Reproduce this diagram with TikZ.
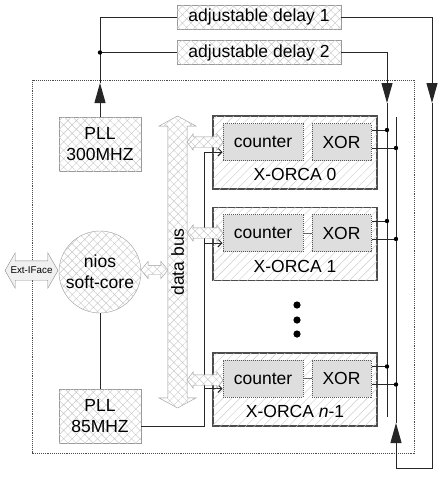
\documentclass[tikz,border=0pt]{standalone}
\usepackage{fontspec}
\setmainfont{Liberation Sans}
\usetikzlibrary{shapes.arrows,patterns.meta,arrows.meta,calc}

\tikzset{
  xhatch/.style={fill=white, postaction={pattern={Hatch[angle=45,distance=6pt,line width=0.4pt]}, pattern color=black!22}},
  plbox/.style={draw=black!40, xhatch, minimum width=82pt, minimum height=54pt, inner sep=0pt, align=center},
  delaybox/.style={draw=black!40, xhatch, minimum width=164pt, minimum height=24pt, inner sep=0pt},
  orcabox/.style={draw=black!70, line width=1.3pt, fill=white, postaction={pattern={Lines[angle=45,distance=6pt,line width=0.4pt]}, pattern color=black!20}, minimum width=164pt, minimum height=73pt},
  unitbox/.style={draw=black!65, densely dotted, line width=1pt, fill=black!13, minimum height=37pt, inner sep=0pt},
  wire/.style={line width=1pt, black!85},
  bigtip/.style={-{Triangle[length=20pt,width=11pt]}},
  clktip/.style={-{Straight Barb[length=4pt,width=8pt]}},
  busarrow/.style={double arrow, draw=black!40, xhatch, minimum height=292pt, inner sep=3pt, double arrow head extend=9pt, double arrow tip angle=123},
  portarrow/.style={double arrow, draw=black!40, xhatch, minimum height=36pt, inner sep=5pt, double arrow head extend=3pt, double arrow tip angle=106}
}

\begin{document}
\begin{tikzpicture}[x=1pt,y=-1pt,font=\fontsize{17.5pt}{21pt}\selectfont]
  \useasboundingbox (0,0) rectangle (443,477);
  % FPGA frame
  \draw[black!70, densely dotted, line width=0.9pt] (32,80) rectangle (414,453);

  % Nodes
  \node[plbox] (pll300) at (100,144) {PLL\\300MHZ};
  \node[plbox] (pll85) at (100,416.5) {PLL\\85MHZ};
  \node[plbox, circle, minimum size=82pt] (nios) at (100,272) {nios\\soft-core};
  \node[delaybox] (delay1) at (259,17) {adjustable delay 1};
  \node[delaybox] (delay2) at (259,52.5) {adjustable delay 2};

  % X-ORCA blocks
  \node[orcabox] (orca0) at (295,152.5) {};
  \node[unitbox, minimum width=80pt] (cnt0) at (263,142) {counter};
  \node[unitbox, minimum width=59pt] (xor0) at (341.5,142) {XOR};
  \node[anchor=base] (lbl0) at ([yshift=9pt]orca0.south) {X-ORCA 0};

  \node[orcabox] (orca1) at (295,244) {};
  \node[unitbox, minimum width=80pt] (cnt1) at (263,233) {counter};
  \node[unitbox, minimum width=59pt] (xor1) at (341.5,233) {XOR};
  \node[anchor=base] (lbl1) at ([yshift=9pt]orca1.south) {X-ORCA 1};

  \node[orcabox] (orcan) at (295,389.5) {};
  \node[unitbox, minimum width=80pt] (cntn) at (263,378.5) {counter};
  \node[unitbox, minimum width=59pt] (xorn) at (341.5,378.5) {XOR};
  \node[anchor=base] (lbln) at ([yshift=9pt]orcan.south) {X-ORCA \textit{n}-1};

  % more blocks
  \fill (297,305) circle (3.6) (297,320) circle (3.6) (297,334) circle (3.6);

  % Clock out of the 300MHZ PLL
  \coordinate (tipA) at (100,83);
  \draw[wire, bigtip] (pll300.north) -- (tipA);
  \draw[wire] (tipA) |- (delay1.west);
  \coordinate (jn) at (pll300.north |- delay2.west);
  \draw[wire] (jn) -- (delay2.west);
  \fill (jn) circle (2.2);

  % Delayed clocks back into the chip
  \coordinate (tipB) at (432,103);
  \coordinate (loop) at (396,468);
  \coordinate (tipC) at (396,423);
  \coordinate (bus1top) at (396,117);
  \draw[wire, bigtip] (delay1.east) -| (tipB);
  \draw[wire, bigtip] (tipB) |- (loop) -- (tipC);
  \draw[wire] (tipC) -- (bus1top);

  \coordinate (tipD) at (387,103);
  \coordinate (bus2bot) at (387,417);
  \draw[wire, bigtip] (delay2.east) -| (tipD);
  \draw[wire] (tipD) -- (bus2bot);

  % XOR taps
  \draw[wire] ($(xor0.north east)+(0,7)$) -- ($(xor0.north east -| tipD)+(0,7)$);
  \draw[wire] ($(xor0.north east)+(0,25)$) -- ($(xor0.north east -| bus1top)+(0,25)$);
  \draw[wire] ($(xor1.north east)+(0,7)$) -- ($(xor1.north east -| tipD)+(0,7)$);
  \draw[wire] ($(xor1.north east)+(0,25)$) -- ($(xor1.north east -| bus1top)+(0,25)$);
  \draw[wire] ($(xorn.north east)+(0,7)$) -- ($(xorn.north east -| tipD)+(0,7)$);
  \draw[wire] ($(xorn.north east)+(0,25)$) -- ($(xorn.north east -| bus1top)+(0,25)$);
  \fill ($(xor0.north east -| tipD)+(0,7)$) circle (2.2)
        ($(xor0.north east -| bus1top)+(0,25)$) circle (2.2)
        ($(xor1.north east -| tipD)+(0,7)$) circle (2.2)
        ($(xor1.north east -| bus1top)+(0,25)$) circle (2.2)
        ($(xorn.north east -| tipD)+(0,7)$) circle (2.2)
        ($(xorn.north east -| bus1top)+(0,25)$) circle (2.2);

  \draw[black!60] (cnt1.east) -- (xor1.west);
  \draw[black!60] (cntn.east) -- (xorn.west);

  % 85MHZ clock to the counters
  \coordinate (clkbus) at (204,426);
  \draw[wire] (nios.south) -- (pll85.north);
  \draw[wire, clktip] (pll85.east |- clkbus) -- (clkbus) |- ($(cnt0.west)+(0,10)$);
  \draw[wire, clktip] ($(clkbus |- cnt1.west)+(0,10)$) -- ($(cnt1.west)+(0,10)$);
  \draw[wire, clktip] ($(clkbus |- cntn.west)+(0,10)$) -- ($(cntn.west)+(0,10)$);

  % Data bus
  \node[busarrow, rotate=90] (bus) at (177.5,262) {data bus};
  \node[portarrow] (port0) at (205,142) {};
  \node[portarrow] (port1) at (205,233) {};
  \node[portarrow] (portn) at (205,380) {};
  \node[portarrow, minimum height=27pt, inner sep=4.5pt, double arrow head extend=4pt, double arrow tip angle=101] (niosport) at (154.5,270) {};
  \node[double arrow, draw=black!45, fill=black!6, minimum height=53pt, inner sep=9.5pt, double arrow head extend=8pt, double arrow tip angle=120] (ext) at (31.5,270.5) {};
  \node[font=\fontsize{9.8pt}{11pt}\selectfont] (extlbl) at (ext) {Ext-IFace};
\end{tikzpicture}
\end{document}
